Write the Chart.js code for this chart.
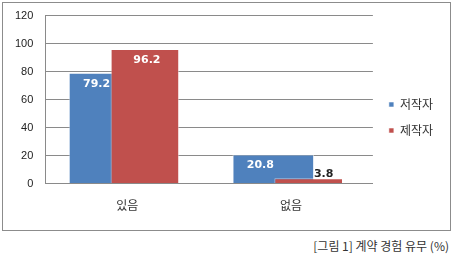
<!DOCTYPE html>
<html>
<head>
<meta charset="utf-8">
<script src="https://cdn.jsdelivr.net/npm/chart.js@4"></script>
<style>
  body { margin: 0; background: #fff; width: 453px; height: 262px; position: relative; overflow: hidden; }
  #box { position: absolute; left: 2px; top: 2px; width: 447px; height: 227px; border: 1px solid #8c8c8c; }
  #myChart { position: absolute; left: 0; top: -6px; }
  #caption { position: absolute; right: 4px; top: 237px; font: 12px "Noto Sans CJK KR", sans-serif; color: #333; }
</style>
</head>
<body>
<div id="box"><canvas id="myChart" width="447" height="233"></canvas></div>
<div id="caption">[그림 1] 계약 경험 유무 (%)</div>
<script>
var categories = ['있음', '없음'];
var seriesNames = ['저작자', '제작자'];
var authorValues = [79.2, 20.8];
var producerValues = [96.2, 3.8];
var yTicks = [0, 20, 40, 60, 80, 100, 120];

// chart.js puts the first dataset on top, here the red one has to overlap the blue one
var redOnTop = {
    id: 'redOnTop',
    beforeDatasetDraw: function(chart, args) {
        if (args.index === 1) return false;
    },
    afterDatasetsDraw: function(chart) {
        chart.getDatasetMeta(1).controller.draw();
    }
};

// legend sits a little lower than the canvas middle
var legendNudge = {
    id: 'legendNudge',
    afterLayout: function(chart) {
        chart.legend.top += 5;
        chart.legend.bottom += 5;
        chart.legend.left += 2;
        chart.legend.right += 2;
    }
};

// value labels, white inside tall bars, dark above short ones
var labelPlugin = {
    id: 'barLabels',
    afterDatasetsDraw: function(chart) {
        var ctx = chart.ctx;
        ctx.save();
        ctx.font = 'bold 11px "DejaVu Sans", sans-serif';
        ctx.textAlign = 'center';
        ctx.textBaseline = 'middle';
        chart.data.datasets.forEach(function(ds, i) {
            chart.getDatasetMeta(i).data.forEach(function(bar, j) {
                var v = ds.data[j];
                if (v > 10) {
                    ctx.fillStyle = '#fff';
                    ctx.fillText(v.toFixed(1), bar.x + (i === 0 ? -13 : 2), bar.y + 11);
                } else {
                    ctx.fillStyle = '#222';
                    ctx.fillText(v.toFixed(1), bar.x + 15, bar.y - 4);
                }
            });
        });
        ctx.restore();
    }
};

var ctx = document.getElementById('myChart');
var myChart = new Chart(ctx, {
    type: 'bar',
    data: {
        labels: categories,
        datasets: [{
            label: seriesNames[0],
            data: authorValues,
            backgroundColor: '#4F81BD',
            borderColor: 'rgba(255,255,255,0.55)',
            borderWidth: 1,
            categoryPercentage: 0.432,
            barPercentage: 2.31
        }, {
            label: seriesNames[1],
            data: producerValues,
            backgroundColor: '#C0504D',
            borderColor: 'rgba(255,255,255,0.55)',
            borderWidth: 1,
            categoryPercentage: 0.432,
            barPercentage: 1.94
        }]
    },
    options: {
        responsive: false,
        animation: false,
        layout: { padding: { left: 0, top: 0, right: 9, bottom: 2 } },
        plugins: {
            tooltip: { enabled: false },
            legend: {
                position: 'right',
                labels: {
                    boxWidth: 5,
                    boxHeight: 5,
                    padding: 14,
                    color: '#333',
                    font: { family: '"Noto Sans CJK KR", sans-serif', size: 12 }
                }
            }
        },
        scales: {
            x: {
                grid: { display: false, drawTicks: false },
                border: { color: '#8a8a8a', width: 1 },
                ticks: {
                    padding: 15,
                    color: '#333',
                    font: { family: '"Noto Sans CJK KR", sans-serif', size: 12 }
                }
            },
            y: {
                min: 0,
                max: 120,
                afterBuildTicks: function(axis) {
                    axis.ticks = yTicks.map(function(v) { return { value: v }; });
                },
                grid: { color: '#8a8a8a', drawTicks: false },
                border: { color: '#8a8a8a', width: 1 },
                ticks: {
                    padding: 12,
                    color: '#222',
                    font: { family: '"Liberation Sans", sans-serif', size: 11 }
                }
            }
        }
    },
    plugins: [redOnTop, legendNudge, labelPlugin]
});
</script>
</body>
</html>
